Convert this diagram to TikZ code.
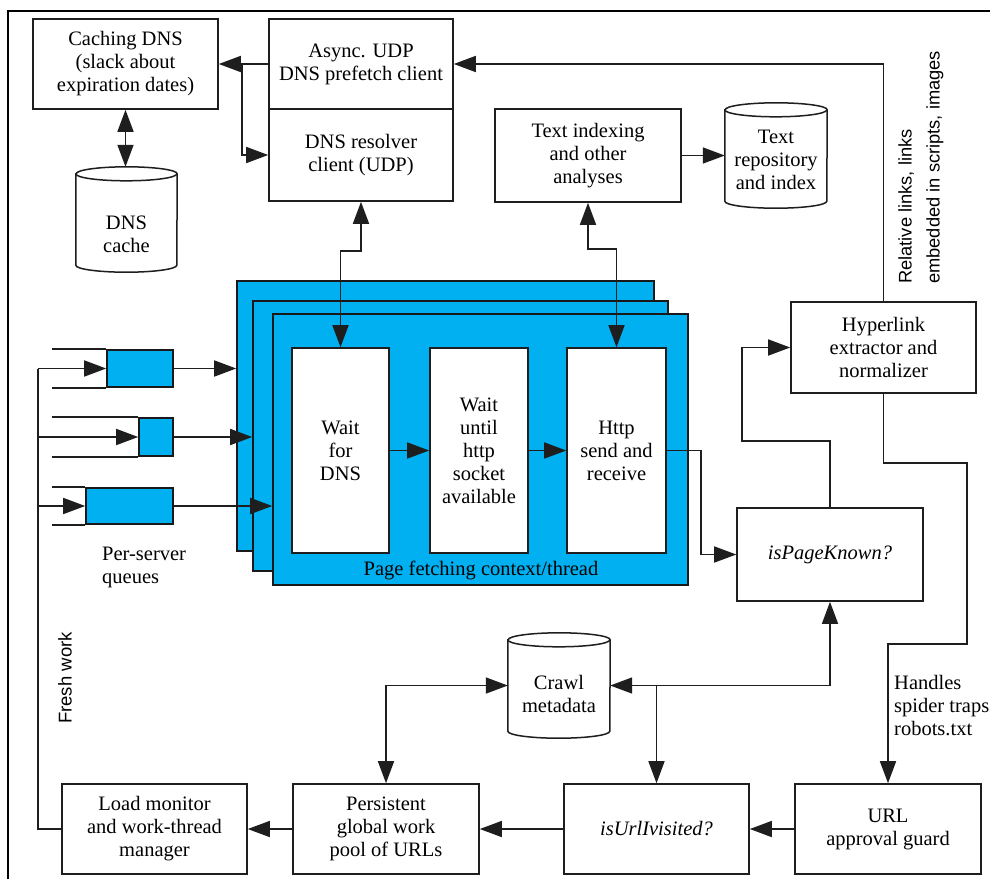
\documentclass[tikz,border=0pt]{standalone}
\usepackage{fontspec}
\setmainfont{Liberation Serif}
\newfontfamily\serifmain{Liberation Serif}
\newfontfamily\labsans{Liberation Sans}
\usetikzlibrary{arrows.meta,calc}
\definecolor{qblue}{RGB}{0,176,240}
\definecolor{lncol}{RGB}{30,30,30}
\newcommand\mycyl[2]{%
  \draw[lncol, line width=1.5pt, fill=white]
    ([yshift=-7pt]#1.north west) -- ([yshift=7pt]#1.south west)
    arc[start angle=180,end angle=360,x radius=#2pt,y radius=7pt]
    -- ([yshift=-7pt]#1.north east)
    arc[start angle=0,end angle=180,x radius=#2pt,y radius=7pt] -- cycle;
  \draw[lncol, line width=1.5pt] ([yshift=-7pt]#1.north west)
    arc[start angle=180,end angle=360,x radius=#2pt,y radius=7pt];}
\begin{document}
\begin{tikzpicture}[x=1pt,y=-1pt,
  every node/.append style={font=\serifmain\fontsize{20.5}{23}\selectfont},
  box/.style={draw=lncol, line width=1.6pt, fill=white, align=center, inner sep=0pt},
  cylnode/.style={inner sep=0pt},
  blue/.style={draw=black!90, line width=1.6pt, fill=qblue, inner sep=0pt},
  ln/.style={draw=lncol, line width=1.6pt},
  arr/.style={ln, -{Triangle[length=22pt,width=16pt]}},
  darr/.style={ln, {Triangle[length=22pt,width=16pt]}-{Triangle[length=22pt,width=16pt]}},
  txt/.style={inner sep=0pt, align=left}]
\useasboundingbox (0,0) rectangle (990,879);
\fill[white] (0,0) rectangle (990,879);
% frame
\draw[line width=2.5pt] (8,879) -- (8,11) -- (990,11);

% top boxes
\node[box, minimum width=185pt, minimum height=90pt] (cache) at (125.5,64) {Caching DNS\\(slack about\\expiration dates)};
\node[box, minimum width=184pt, minimum height=90pt] (async) at (361,64) {Async. UDP\\DNS prefetch client};
\node[box, minimum width=184pt, minimum height=92pt] (resolver) at (361,155) {DNS resolver\\client (UDP)};
\node[box, minimum width=186pt, minimum height=93pt] (textidx) at (588,155.5) {Text indexing\\and other\\analyses};

% cylinders
\node[cylnode, minimum width=101pt, minimum height=105pt] (dnscache) at (126.5,219.5) {};
\mycyl{dnscache}{50.5}
\node[txt, align=center] (dnscachetxt) at ([yshift=-15pt]dnscache.center) {DNS\\cache};
\node[cylnode, minimum width=102pt, minimum height=105pt] (textrepo) at (776,155.5) {};
\mycyl{textrepo}{51}
\node[txt, align=center] (textrepotxt) at ([yshift=-4pt]textrepo.center) {Text\\repository\\and index};
\node[cylnode, minimum width=102pt, minimum height=105pt] (crawl) at (559,685.5) {};
\mycyl{crawl}{51}
\node[txt, align=center] (crawltxt) at ([yshift=-8pt]crawl.center) {Crawl\\metadata};

% blue stacks
\node[blue, minimum width=417pt, minimum height=270pt] (back) at (445.5,416) {};
\node[blue, minimum width=415pt, minimum height=270pt] (mid) at (460.5,436) {};
\node[blue, minimum width=415pt, minimum height=271pt] (front) at (480.5,449.5) {};
\node[box, minimum width=97pt, minimum height=205pt] (waitdns) at (340.5,450.5) {Wait\\for\\DNS};
\node[box, minimum width=98pt, minimum height=205pt] (waitsock) at (479,450.5) {Wait\\until\\http\\socket\\available};
\node[box, minimum width=99pt, minimum height=205pt] (http) at (616.5,450.5) {Http\\send and\\receive};
\node[txt] (pflabel) at (481,570) {Page fetching context/thread};

% queues
\node[blue, minimum width=66pt, minimum height=37pt] (q1) at (140,368.5) {};
\node[blue, minimum width=34pt, minimum height=38pt] (q2) at (156,437) {};
\node[blue, minimum width=87pt, minimum height=36pt] (q3) at (129.5,506) {};
\draw[ln] (q1.north west) -- ++(-54,0);
\draw[ln] (q1.south west) -- ++(-54,0);
\draw[ln] (q2.north west) -- ++(-86,0);
\draw[ln] (q2.south west) -- ++(-86,0);
\draw[ln] (q3.north west) -- ++(-33,0);
\draw[ln] (q3.south west) -- ++(-33,0);
\node[txt, anchor=west] (pslabel) at (102,567.5) {Per-server\\queues};

% right side boxes
\node[box, minimum width=185pt, minimum height=91pt] (hyper) at (883.5,347.5) {Hyperlink\\extractor and\\normalizer};
\node[box, minimum width=186pt, minimum height=93pt] (pageknown) at (830,554.5) {\itshape isPageKnown?};

% bottom row
\node[box, minimum width=185pt, minimum height=90pt] (loadmon) at (154.5,829) {Load monitor\\and work-thread\\manager};
\node[box, minimum width=186pt, minimum height=90pt] (persist) at (386,829) {Persistent\\global work\\pool of URLs};
\node[box, minimum width=185pt, minimum height=90pt] (isurl) at (656.5,829) {\itshape isUrlIvisited?};
\node[box, minimum width=186pt, minimum height=90pt] (urlguard) at (888,829) {URL\\approval guard};

% labels
\node[txt, rotate=90, anchor=west, font=\labsans\fontsize{18.3}{28}\selectfont] (rellabel) at (921,284) {Relative links, links\\embedded in scripts, images};
\node[txt, rotate=90, font=\labsans\fontsize{18.5}{22}\selectfont] (freshlabel) at (65,678) {Fresh work};
\node[txt, anchor=west] (spiderlabel) at (894,706) {Handles\\spider traps\\robots.txt};

% connectors top
\draw[arr] (async.west) -- (cache.east);
\coordinate (b1) at (242,64);
\draw[arr] (b1) |- (resolver.west);
\draw[darr] (cache.south) -- (cache.south |- dnscache.north);
\draw[darr] (resolver.south) -- (resolver.south |- 0,251) -| (waitdns.north);
\draw[darr] (textidx.south) -- (textidx.south |- 0,249) -| (http.north);
\draw[arr] (textidx.east) -- (textidx.east -| textrepo.west);
\draw[arr] (hyper.north) |- (async.east);

% inside
\draw[arr] (waitdns.east) -- (waitsock.west);
\draw[arr] (waitsock.east) -- (http.west);

% queues to threads
\draw[arr] (q1.east) -- (q1.east -| back.west);
\draw[arr] (q2.east) -- (q2.east -| mid.west);
\draw[arr] (q3.east) -- (q3.east -| front.west);
\coordinate (fw) at (38,368.5);
\draw[ln] (loadmon.west) -| (fw);
\draw[arr] (fw) -- (q1.west);
\draw[arr] (fw |- q2.west) -- (q2.west);
\draw[arr] (fw |- q3.west) -- (q3.west);

% right side
\draw[arr] (http.east) -- ++(34,0) |- (pageknown.west);
\draw[arr] (pageknown.north) -- ++(0,-66) -- ++(-88,0) |- (hyper.west);
\draw[arr] (hyper.south) -- ++(0,69) -- ++(83.5,0) -- ++(0,181) -| (urlguard.north);

% bottom
\draw[arr] (urlguard.west) -- (isurl.east);
\draw[arr] (isurl.west) -- (persist.east);
\draw[arr] (persist.west) -- (loadmon.east);
\draw[darr] (persist.north) |- (crawl.west);
\draw[darr] (crawl.east) -| (pageknown.south);
\coordinate (b2) at (isurl.north |- crawl.east);
\draw[arr] (b2) -- (isurl.north);
\end{tikzpicture}
\end{document}
